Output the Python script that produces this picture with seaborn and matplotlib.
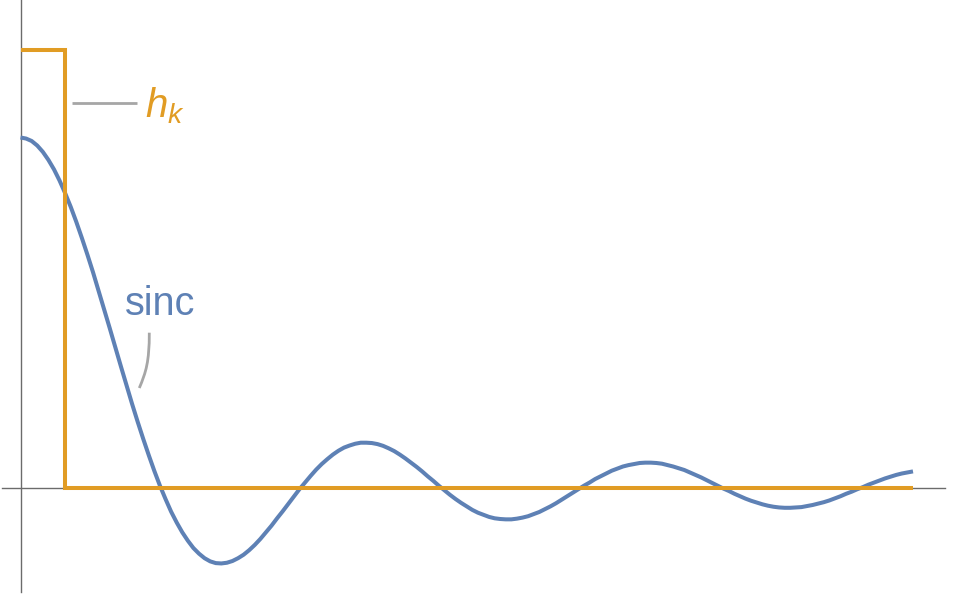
import numpy as np
import pandas as pd
import matplotlib
matplotlib.use("Agg")
import matplotlib.pyplot as plt
from matplotlib.path import Path
from matplotlib.patches import PathPatch
import seaborn as sns

# sinc curve, every 0.125 along x
sinc_x = np.arange(0, 20.001, 0.125)
sinc_y = [
    1.000, 0.997, 0.990, 0.977, 0.959, 0.936, 0.909, 0.877, 0.841, 0.802,
    0.759, 0.713, 0.665, 0.615, 0.562, 0.509, 0.455, 0.400, 0.346, 0.292,
    0.239, 0.188, 0.139, 0.092, 0.047, 0.005, -0.033, -0.069, -0.100, -0.128,
    -0.152, -0.173, -0.189, -0.202, -0.211, -0.216, -0.217, -0.215, -0.210, -0.202,
    -0.192, -0.179, -0.164, -0.147, -0.128, -0.109, -0.088, -0.068, -0.047, -0.026,
    -0.005, 0.014, 0.033, 0.051, 0.067, 0.081, 0.094, 0.105, 0.114, 0.120,
    0.125, 0.128, 0.128, 0.127, 0.124, 0.119, 0.112, 0.104, 0.094, 0.083,
    0.071, 0.059, 0.046, 0.032, 0.019, 0.005, -0.008, -0.021, -0.033, -0.044,
    -0.054, -0.064, -0.072, -0.078, -0.084, -0.088, -0.090, -0.091, -0.091, -0.089,
    -0.086, -0.082, -0.076, -0.070, -0.062, -0.054, -0.045, -0.035, -0.025, -0.015,
    -0.005, 0.005, 0.014, 0.024, 0.032, 0.040, 0.048, 0.054, 0.060, 0.064,
    0.067, 0.070, 0.071, 0.071, 0.070, 0.068, 0.064, 0.060, 0.055, 0.050,
    0.043, 0.036, 0.029, 0.021, 0.013, 0.005, -0.003, -0.010, -0.018, -0.025,
    -0.032, -0.038, -0.043, -0.048, -0.052, -0.055, -0.057, -0.058, -0.058, -0.057,
    -0.056, -0.053, -0.050, -0.046, -0.042, -0.037, -0.031, -0.025, -0.018, -0.012,
    -0.005, 0.001, 0.008, 0.014, 0.020, 0.026, 0.031, 0.036, 0.040, 0.043,
    0.046,
]

# h_k step (box of height 1.25 up to x = 1)
hk_x = [0, 1, 20]
hk_y = [1.25, 0, 0]

blue = "#5E81B5"
orange = "#E19C24"
grey = "#A6A6A6"
axis_grey = "#6B6B6B"

sns.set_style("white")
plt.rcParams["font.family"] = ["Liberation Sans", "DejaVu Sans"]
plt.rcParams["mathtext.fontset"] = "custom"
plt.rcParams["mathtext.it"] = "Liberation Sans:italic"
plt.rcParams["mathtext.rm"] = "Liberation Sans"

W, H = 960, 595
fig = plt.figure(figsize=(W / 100, H / 100), dpi=100)
ax = fig.add_axes([0, 0, 1, 1])

# pixel layout of the reference
x0_px, x20_px = 20.5, 913.0
y0_px, y1_px = 487.5, 137.5
sx = (x20_px - x0_px) / 20
sy = y0_px - y1_px


def px(xp, yp):
    return (xp - x0_px) / sx, (y0_px - yp) / sy


ax.set_xlim(px(0, 0)[0], px(W, 0)[0])
ax.set_ylim(px(0, H)[1], px(0, 0)[1])

df_sinc = pd.DataFrame({"x": sinc_x, "y": sinc_y})
df_hk = pd.DataFrame({"x": hk_x, "y": hk_y})

sns.lineplot(data=df_sinc, x="x", y="y", ax=ax, color=blue, lw=2.9,
             sort=False, estimator=None, zorder=3,
             solid_joinstyle="round", solid_capstyle="butt")
sns.lineplot(data=df_hk, x="x", y="y", ax=ax, color=orange, lw=2.9,
             drawstyle="steps-post", sort=False, estimator=None, zorder=4,
             solid_joinstyle="miter", solid_capstyle="butt")

# Mathematica-style axes crossing at the origin
for s in ["top", "right"]:
    ax.spines[s].set_visible(False)
ax.spines["left"].set_position(("data", 0))
ax.spines["bottom"].set_position(("data", 0))
ax.spines["left"].set_bounds(px(0, 592)[1], px(0, 0)[1])
ax.spines["bottom"].set_bounds(px(2, 0)[0], px(945, 0)[0])
for s in ["left", "bottom"]:
    ax.spines[s].set_color(axis_grey)
    ax.spines[s].set_linewidth(1.0)
    ax.spines[s].set_zorder(1)
ax.set_xticks([])
ax.set_yticks([])
ax.set_xlabel("")
ax.set_ylabel("")

# labels with leader lines
a = px(72, 102.7)
b = px(137, 102.7)
ax.plot([a[0], b[0]], [a[1], b[1]], color=grey, lw=2.0, solid_capstyle="butt")
ax.text(*px(145, 117), r"$h_k$", color=orange, fontsize=29,
        ha="left", va="baseline")

verts = [px(149.3, 332.7), px(149.3, 362), px(146, 372), px(139.3, 388)]
leader = Path(verts, [Path.MOVETO, Path.CURVE4, Path.CURVE4, Path.CURVE4])
ax.add_patch(PathPatch(leader, fill=False, edgecolor=grey, lw=2.0))
ax.text(*px(125, 315), "sinc", color=blue, fontsize=28.5,
        ha="left", va="baseline")

fig.savefig("out.png", dpi=100)
